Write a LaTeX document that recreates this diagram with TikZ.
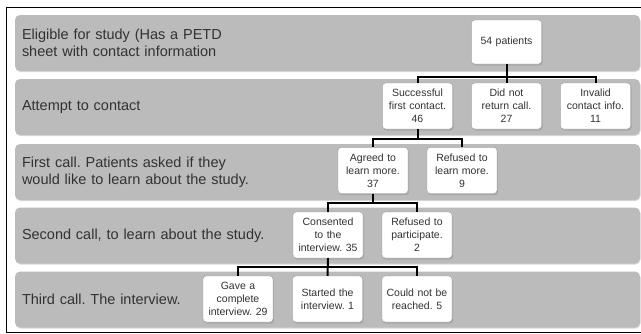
\documentclass[tikz,border=0pt]{standalone}
\usepackage{fontspec}
\setmainfont{Liberation Sans}
\frenchspacing
\usetikzlibrary{shadows}
\definecolor{bandgray}{RGB}{187,187,187}
\definecolor{txtgray}{RGB}{50,50,50}
\definecolor{boxline}{RGB}{150,150,150}

\begin{document}
\begin{tikzpicture}[x=1pt,y=-1pt,
  band/.style={fill=bandgray,rounded corners=5pt,minimum width=625pt,minimum height=56pt,
    text width=611pt,align=left,inner xsep=7pt,text=txtgray,
    font=\fontsize{14.5}{17}\selectfont,
    drop shadow={shadow xshift=0.5pt,shadow yshift=-1pt,opacity=0.3}},
  box/.style={draw=boxline,line width=0.4pt,fill=white,rounded corners=3pt,
    minimum width=70pt,minimum height=46pt,text width=66pt,align=center,inner sep=1pt,
    text=txtgray,font=\fontsize{10.5}{13}\selectfont,
    drop shadow={shadow xshift=1pt,shadow yshift=-1.5pt,opacity=0.35}},
  link/.style={line width=2pt}]
\useasboundingbox (0,0) rectangle (641,333);
\draw[line width=0.8pt] (641,7) -- (6,7) -- (6,332) -- (641,332);

% stages
\node[band] (s1) at (327.5,43) {Eligible for study (Has a PETD\\sheet with contact information};
\node[band] (s2) at (327.5,107) {Attempt to contact};
\node[band] (s3) at (327.5,172) {First call. Patients asked if they\\would like to learn about the study.};
\node[band] (s4) at (327.5,235.5) {Second call, to learn about the study.};
\node[band] (s5) at (327.5,299.5) {Third call. The interview.};

% counts
\node[box,minimum height=44pt] (pat) at (506.5,42) {54 patients};
\node[box] (succ) at (417.5,106) {Successful\\first contact.\\46};
\node[box] (noret) at (506.5,106) {Did not\\return call.\\27};
\node[box] (inval) at (595.5,106) {Invalid\\contact info.\\11};
\node[box] (agree) at (373,170.5) {Agreed to\\learn more.\\37};
\node[box] (refl) at (462,170.5) {Refused to\\learn more.\\9};
\node[box] (cons) at (328,235) {Consented\\to the\\interview. 35};
\node[box] (refp) at (417,235) {Refused to\\participate.\\2};
\node[box] (gave) at (238,299) {Gave a\\complete\\interview. 29};
\node[box] (start) at (327.5,299) {Started the\\interview. 1};
\node[box] (reach) at (417,299) {Could not be\\reached. 5};

\draw[link] (pat.south) -- ++(0,13) -| (succ.north);
\draw[link] (pat.south) -- ++(0,13) -| (inval.north);
\draw[link] (pat.south) -- (noret.north);
\draw[link] (succ.south) -- ++(0,10) -| (agree.north);
\draw[link] (succ.south) -- ++(0,10) -| (refl.north);
\draw[link] (agree.south) -- ++(0,9) -| (cons.north);
\draw[link] (agree.south) -- ++(0,9) -| (refp.north);
\draw[link] (cons.south) -- ++(0,9) -| (gave.north);
\draw[link] (cons.south) -- ++(0,9) -| (reach.north);
\draw[link] (cons.south) -- (start.north);
\end{tikzpicture}
\end{document}
